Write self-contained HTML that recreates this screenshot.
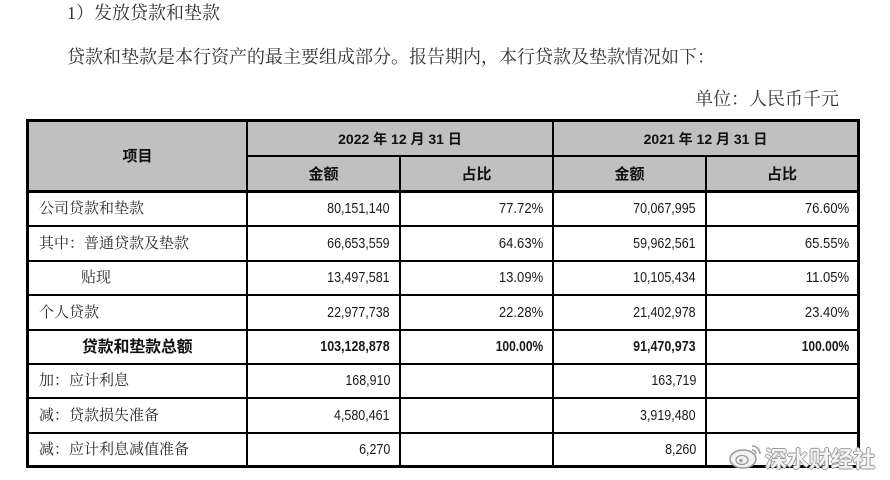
<!DOCTYPE html>
<html><head><meta charset="utf-8">
<style>
html,body{margin:0;padding:0;background:#fff;}
body{width:890px;height:480px;position:relative;overflow:hidden;}
.a{position:absolute;}
.ln{position:absolute;background:#000;}
.t{position:absolute;display:flex;align-items:center;white-space:nowrap;line-height:1;}
.song{font-family:"Liberation Serif","Noto Serif CJK SC",serif;color:#2a2a2a;}
.hei{font-family:"Liberation Sans","Noto Sans CJK SC",sans-serif;font-weight:bold;color:#111;}
.num{font-family:"Liberation Sans",sans-serif;font-size:14.5px;color:#1a1a1a;justify-content:flex-end;}
.num span{display:inline-block;transform-origin:100% 50%;}
.n span{transform:scaleX(0.86);}
.p span{transform:scaleX(0.9);}
.bp span{transform:scaleX(0.83);font-weight:bold;}
.bn span{transform:scaleX(0.86);font-weight:bold;}
.c{justify-content:center;}
</style></head>
<body>
<!-- top text -->
<div class="t song" style="left:67px;top:3px;height:20px;font-size:18px;color:#333;">1）发放贷款和垫款</div>
<div class="t song" style="left:67px;top:47px;height:20px;font-size:18px;color:#333;">贷款和垫款是本行资产的最主要组成部分。报告期内，本行贷款及垫款情况如下：</div>
<div class="t song" style="left:695px;top:89px;height:20px;font-size:18px;color:#333;">单位：人民币千元</div>

<!-- header fill -->
<div class="a" style="left:26px;top:119px;width:834px;height:74px;background:#c0c0c0;"></div>

<!-- horizontal lines -->
<div class="ln" style="left:26px;top:119px;width:834px;height:3px;"></div>
<div class="ln" style="left:247px;top:155px;width:612px;height:2px;"></div>
<div class="ln" style="left:26px;top:190px;width:834px;height:3px;"></div>
<div class="ln" style="left:26px;top:225px;width:834px;height:2px;"></div>
<div class="ln" style="left:26px;top:260px;width:834px;height:2px;"></div>
<div class="ln" style="left:26px;top:294px;width:834px;height:2px;"></div>
<div class="ln" style="left:26px;top:329px;width:834px;height:2px;"></div>
<div class="ln" style="left:26px;top:363px;width:834px;height:2px;"></div>
<div class="ln" style="left:26px;top:397px;width:834px;height:2px;"></div>
<div class="ln" style="left:26px;top:432px;width:834px;height:2px;"></div>
<div class="ln" style="left:26px;top:465px;width:834px;height:3px;"></div>
<!-- vertical lines -->
<div class="ln" style="left:26px;top:119px;width:3px;height:349px;"></div>
<div class="ln" style="left:246px;top:119px;width:2px;height:349px;"></div>
<div class="ln" style="left:399px;top:155px;width:2px;height:313px;"></div>
<div class="ln" style="left:552px;top:119px;width:2px;height:349px;"></div>
<div class="ln" style="left:705px;top:155px;width:2px;height:313px;"></div>
<div class="ln" style="left:857px;top:119px;width:3px;height:349px;"></div>

<!-- header text -->
<div class="t hei c" style="left:29px;top:122px;width:217px;height:68px;font-size:15px;">项目</div>
<div class="t hei c" style="left:248px;top:122px;width:304px;height:34px;font-size:14px;">2022 年 12 月 31 日</div>
<div class="t hei c" style="left:554px;top:122px;width:303px;height:34px;font-size:14px;">2021 年 12 月 31 日</div>
<div class="t hei c" style="left:248px;top:157px;width:151px;height:34px;font-size:15px;">金额</div>
<div class="t hei c" style="left:401px;top:157px;width:151px;height:34px;font-size:15px;">占比</div>
<div class="t hei c" style="left:554px;top:157px;width:151px;height:34px;font-size:15px;">金额</div>
<div class="t hei c" style="left:707px;top:157px;width:150px;height:34px;font-size:15px;">占比</div>

<!-- row labels -->
<div class="t song" style="left:39px;top:193px;height:33px;font-size:15px;">公司贷款和垫款</div>
<div class="t song" style="left:39px;top:227px;height:34px;font-size:15px;">其中：普通贷款及垫款</div>
<div class="t song" style="left:81px;top:262px;height:33px;font-size:15px;">贴现</div>
<div class="t song" style="left:39px;top:296px;height:34px;font-size:15px;">个人贷款</div>
<div class="t hei" style="left:82px;top:331px;height:33px;font-size:15.8px;">贷款和垫款总额</div>
<div class="t song" style="left:39px;top:365px;height:33px;font-size:15px;">加：应计利息</div>
<div class="t song" style="left:39px;top:399px;height:34px;font-size:15px;">减：贷款损失准备</div>
<div class="t song" style="left:39px;top:434px;height:32px;font-size:15px;">减：应计利息减值准备</div>

<!-- numbers: col amount 2022 (right 390), ratio 2022 (543), amount 2021 (696), ratio 2021 (849) -->
<!-- row 1 -->
<div class="t num n" style="left:250px;width:140px;top:193px;height:33px;"><span>80,151,140</span></div>
<div class="t num p" style="left:403px;width:140px;top:193px;height:33px;"><span>77.72%</span></div>
<div class="t num n" style="left:556px;width:140px;top:193px;height:33px;"><span>70,067,995</span></div>
<div class="t num p" style="left:709px;width:140px;top:193px;height:33px;"><span>76.60%</span></div>
<!-- row 2 -->
<div class="t num n" style="left:250px;width:140px;top:227px;height:34px;"><span>66,653,559</span></div>
<div class="t num p" style="left:403px;width:140px;top:227px;height:34px;"><span>64.63%</span></div>
<div class="t num n" style="left:556px;width:140px;top:227px;height:34px;"><span>59,962,561</span></div>
<div class="t num p" style="left:709px;width:140px;top:227px;height:34px;"><span>65.55%</span></div>
<!-- row 3 -->
<div class="t num n" style="left:250px;width:140px;top:262px;height:33px;"><span>13,497,581</span></div>
<div class="t num p" style="left:403px;width:140px;top:262px;height:33px;"><span>13.09%</span></div>
<div class="t num n" style="left:556px;width:140px;top:262px;height:33px;"><span>10,105,434</span></div>
<div class="t num p" style="left:709px;width:140px;top:262px;height:33px;"><span>11.05%</span></div>
<!-- row 4 -->
<div class="t num n" style="left:250px;width:140px;top:296px;height:34px;"><span>22,977,738</span></div>
<div class="t num p" style="left:403px;width:140px;top:296px;height:34px;"><span>22.28%</span></div>
<div class="t num n" style="left:556px;width:140px;top:296px;height:34px;"><span>21,402,978</span></div>
<div class="t num p" style="left:709px;width:140px;top:296px;height:34px;"><span>23.40%</span></div>
<!-- row 5 bold -->
<div class="t num bn" style="left:250px;width:140px;top:331px;height:33px;"><span>103,128,878</span></div>
<div class="t num bp" style="left:403px;width:140px;top:331px;height:33px;"><span>100.00%</span></div>
<div class="t num bn" style="left:556px;width:140px;top:331px;height:33px;"><span>91,470,973</span></div>
<div class="t num bp" style="left:709px;width:140px;top:331px;height:33px;"><span>100.00%</span></div>
<!-- row 6 -->
<div class="t num n" style="left:250px;width:140px;top:365px;height:33px;"><span>168,910</span></div>
<div class="t num n" style="left:556px;width:140px;top:365px;height:33px;"><span>163,719</span></div>
<!-- row 7 -->
<div class="t num n" style="left:250px;width:140px;top:399px;height:34px;"><span>4,580,461</span></div>
<div class="t num n" style="left:556px;width:140px;top:399px;height:34px;"><span>3,919,480</span></div>
<!-- row 8 -->
<div class="t num n" style="left:250px;width:140px;top:434px;height:32px;"><span>6,270</span></div>
<div class="t num n" style="left:556px;width:140px;top:434px;height:32px;"><span>8,260</span></div>

<!-- watermark -->
<svg class="a" style="left:728px;top:440px;" width="38" height="30" viewBox="0 0 38 30">
  <ellipse cx="15" cy="19" rx="13" ry="9" fill="#f2f2f2" stroke="#9a9a9a" stroke-width="1.5"/>
  <ellipse cx="14" cy="20" rx="6" ry="4.5" fill="none" stroke="#9a9a9a" stroke-width="1.3"/>
  <circle cx="13" cy="20.5" r="1.6" fill="#9a9a9a"/>
  <path d="M24 6 A8 8 0 0 1 32 14" fill="none" stroke="#9a9a9a" stroke-width="1.6"/>
  <path d="M24 10 A4 4 0 0 1 28 14" fill="none" stroke="#9a9a9a" stroke-width="1.6"/>
</svg>
<div class="t" style="left:765px;top:448px;height:24px;font-size:22px;font-family:'Liberation Sans','Noto Sans CJK SC',sans-serif;font-weight:bold;color:#f3f3f3;text-shadow:1px 0 #9a9a9a,-1px 0 #9a9a9a,0 1px #9a9a9a,0 -1px #9a9a9a;">深水财经社</div>
</body></html>
